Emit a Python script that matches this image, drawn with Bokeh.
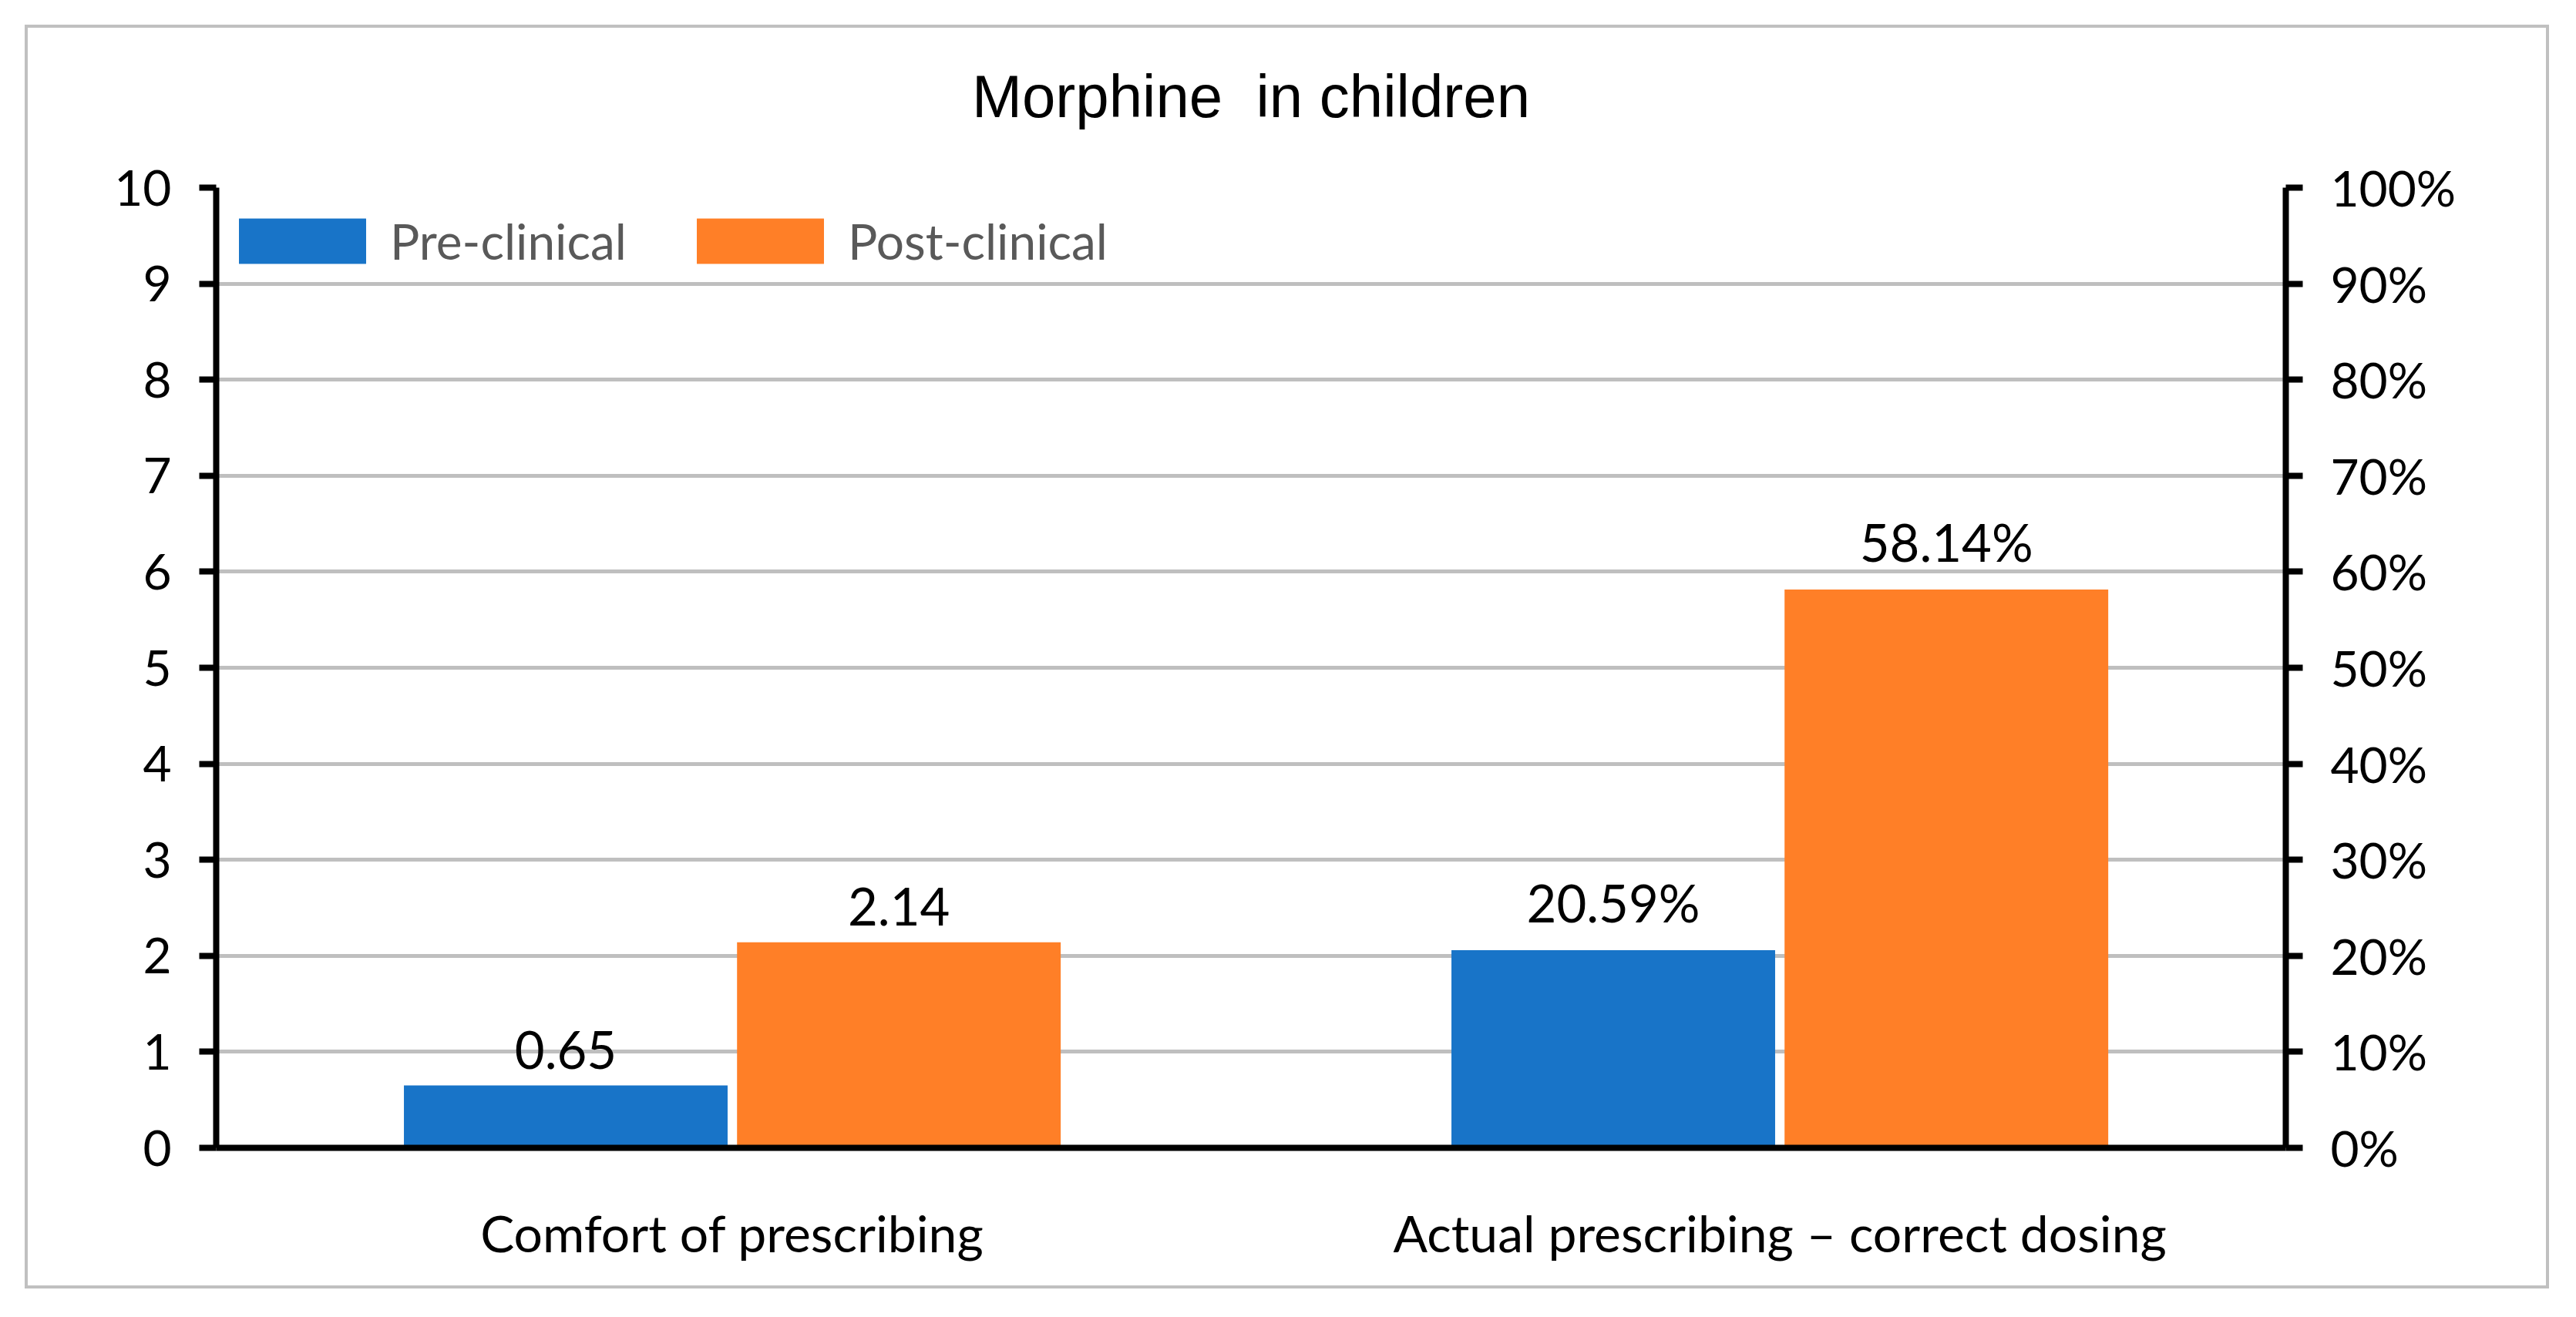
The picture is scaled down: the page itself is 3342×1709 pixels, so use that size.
from bokeh.plotting import figure
from bokeh.models import (Range1d, LinearAxis, FixedTicker, PrintfTickFormatter,
                          ColumnDataSource, Legend, LegendItem)
from bokeh.transform import dodge
from bokeh.core.properties import value
from bokeh.embed import file_html
from bokeh.resources import INLINE

# ---------------- data ----------------
title_text = "Morphine\u00a0 in children"
categories = ["Comfort of prescribing", "Actual prescribing \u2013 correct dosing"]
series_names = ["Pre-clinical", "Post-clinical"]
pre_values = [0.65, 20.59]
post_values = [2.14, 58.14]
category_scale = ["score", "percent"]          # which y axis each category is read on
left_ticks = [0, 1, 2, 3, 4, 5, 6, 7, 8, 9, 10]
right_ticks = [0, 10, 20, 30, 40, 50, 60, 70, 80, 90, 100]

# ---------------- style ----------------
BLUE = "#1874C8"
ORANGE = "#FF7F27"
GRID = "#BFBFBF"
FONT = "Lato"
TITLE_FONT = "Liberation Sans"

W, H = 3333, 1698
MB_L, MB_R, MB_T, MB_B = 277, 371, 240, 212

p = figure(width=W, height=H,
           x_range=Range1d(-0.4927, 1.483), y_range=Range1d(0, 10),
           output_backend="svg", toolbar_location=None,
           min_border_left=MB_L, min_border_right=MB_R,
           min_border_top=MB_T, min_border_bottom=MB_B)
p.extra_y_ranges = {"pct": Range1d(0, 100)}
p.margin = (3, 0, 0, 3)
# chart-area frame line (light grey), drawn 29px inside the figure edge
p.styles = {"box-shadow": "inset 0 0 0 29px #FFFFFF, inset 0 0 0 33px #C0C0C0"}
p.outline_line_color = None
p.background_fill_color = "white"
p.border_fill_color = None

p.title.text = title_text
p.title.align = "center"
p.title.text_font = TITLE_FONT
p.title.text_font_size = "78px"
p.title.text_font_style = "normal"
p.title.text_color = "black"
p.title.standoff = 149

BAR_W = 0.309
OFF = 0.159

pre_renderers = []
post_renderers = []
for i, cat in enumerate(categories):
    is_pct = category_scale[i] == "percent"
    rng = "pct" if is_pct else "default"
    suffix = "%" if is_pct else ""
    src = ColumnDataSource(dict(
        x=[i],
        pre=[pre_values[i]],
        post=[post_values[i]],
        pre_lbl=[f"{pre_values[i]:.2f}{suffix}"],
        post_lbl=[f"{post_values[i]:.2f}{suffix}"],
    ))
    r1 = p.vbar(x=dodge("x", -OFF, range=p.x_range), top="pre", bottom=0, width=BAR_W,
                source=src, fill_color=BLUE, line_color=None, y_range_name=rng)
    r2 = p.vbar(x=dodge("x", OFF, range=p.x_range), top="post", bottom=0, width=BAR_W,
                source=src, fill_color=ORANGE, line_color=None, y_range_name=rng)
    pre_renderers.append(r1)
    post_renderers.append(r2)
    for col, lbl, off in (("pre", "pre_lbl", -OFF), ("post", "post_lbl", OFF)):
        p.text(x=dodge("x", off, range=p.x_range), y=col, text=lbl, source=src,
               y_range_name=rng, text_align="center", text_baseline="bottom",
               y_offset=-22, text_font=value(FONT), text_font_size="67px",
               text_color="black")

# grid
p.xgrid.visible = False
p.ygrid.ticker = FixedTicker(ticks=left_ticks)
p.ygrid.grid_line_color = GRID
p.ygrid.grid_line_width = 5


def style_axis(ax, tick_out=22):
    ax.axis_line_color = "black"
    ax.axis_line_width = 8
    ax.major_tick_line_color = "black"
    ax.major_tick_line_width = 8
    ax.major_tick_out = tick_out
    ax.major_tick_in = 0
    ax.minor_tick_line_color = None
    ax.major_label_text_font = FONT
    ax.major_label_text_font_size = "64px"
    ax.major_label_text_color = "black"


yl = p.yaxis[0]
yl.ticker = FixedTicker(ticks=left_ticks)
style_axis(yl)
yl.major_label_standoff = 36

yr = LinearAxis(y_range_name="pct", ticker=FixedTicker(ticks=right_ticks),
                formatter=PrintfTickFormatter(format="%d%%"))
style_axis(yr)
yr.major_label_standoff = 36
p.add_layout(yr, "right")

xb = p.xaxis[0]
xb.ticker = FixedTicker(ticks=list(range(len(categories))))
xb.major_label_overrides = {i: c for i, c in enumerate(categories)}
style_axis(xb, tick_out=0)
xb.major_tick_line_color = None
xb.major_label_text_font_size = "66px"
xb.major_label_standoff = 70

legend = Legend(items=[LegendItem(label=series_names[0], renderers=pre_renderers),
                       LegendItem(label=series_names[1], renderers=post_renderers)],
                location="top_left", orientation="horizontal")
legend.margin = 9
legend.padding = 0
legend.spacing = 70
legend.glyph_width = 206
legend.glyph_height = 73
legend.label_height = 120
legend.label_standoff = 11
legend.label_text_font = FONT
legend.label_text_font_size = "64px"
legend.label_text_color = "#595959"
legend.border_line_color = None
legend.background_fill_alpha = 0
p.add_layout(legend)

open("out.html", "w").write(file_html(p, INLINE))
